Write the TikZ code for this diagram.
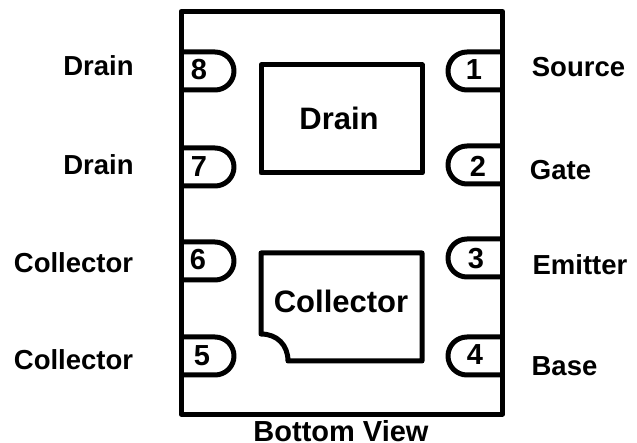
\documentclass[tikz,border=0pt]{standalone}
\usepackage{fontspec}
\setmainfont{Liberation Sans}
\usetikzlibrary{positioning}
\tikzset{
	outline/.style={line width=5pt, line join=round, black},
	padline/.style={line width=5pt, line join=round, black},
	pinnum/.style={font=\fontsize{29}{29}\selectfont\bfseries, inner sep=0pt},
	padname/.style={font=\fontsize{31}{31}\selectfont\bfseries, inner sep=0pt},
	sidename/.style={font=\fontsize{27.5}{27.5}\selectfont\bfseries, inner sep=0pt}
}
\begin{document}
\begin{tikzpicture}[x=1pt,y=-1pt]
		
		\def\rad{19} % pin radius
		
		\useasboundingbox (0,0) rectangle (637,443);
		
		\coordinate (TL) at (181,11.5);
		\coordinate (BR) at (502.5,414);
		
		\draw[outline] (TL) rectangle (BR);
		
		% left pins
		\draw[padline] (181,52) -- (215,52) arc[start angle=-90,end angle=90,radius=\rad] -- (181,90);
		\draw[padline] (181,148) -- (215,148) arc[start angle=-90,end angle=90,radius=\rad] -- (181,186);
		\draw[padline] (181,242) -- (215,242) arc[start angle=-90,end angle=90,radius=\rad] -- (181,280);
		\draw[padline] (181,337) -- (215,337) arc[start angle=-90,end angle=90,radius=\rad] -- (181,375);
		
		% right pins
		\draw[padline] (502.5,52) -- (467,52) arc[start angle=270,end angle=90,radius=\rad] -- (502.5,90);
		\draw[padline] (502.5,146) -- (467,146) arc[start angle=270,end angle=90,radius=\rad] -- (502.5,184);
		\draw[padline] (502.5,239) -- (467,239) arc[start angle=270,end angle=90,radius=\rad] -- (502.5,277);
		\draw[padline] (502.5,337) -- (467,337) arc[start angle=270,end angle=90,radius=\rad] -- (502.5,375);
		
		% pads
		\draw[padline] (261,65) rectangle (422,173);
		\draw[padline] (261,253) -- (422,253) -- (422,361) -- (288,361)
		.. controls (288,345) and (277,334) .. (261,334) -- cycle;
		
		\node[padname] (drainpad) at (339,118) {Drain};
		\node[padname] (collectorpad) at (341,301) {Collector};
		
		\node[pinnum] (p8) at (199,70) {8};
		\node[pinnum] (p7) at (199,167) {7};
		\node[pinnum] (p6) at (198,260) {6};
		\node[pinnum] (p5) at (202,356) {5};
		\node[pinnum] (p1) at (474,70) {1};
		\node[pinnum] (p2) at (478,166) {2};
		\node[pinnum] (p3) at (476,259) {3};
		\node[pinnum] (p4) at (475,355) {4};
		
		\node[sidename] (l8) at (98.5,66) {Drain};
		\node[sidename] (l7) at (98.5,165) {Drain};
		\node[sidename] (l6) at (73.5,263) {Collector};
		\node[sidename] (l5) at (73.5,360) {Collector};
		\node[sidename] (l1) at (578.5,67) {Source};
		\node[sidename] (l2) at (560.5,170) {Gate};
		\node[sidename] (l3) at (580,265) {Emitter};
		\node[sidename] (l4) at (564.5,366) {Base};
		
		\node[font=\fontsize{29}{29}\selectfont\bfseries, inner sep=0pt] (title) at (341,431) {Bottom View};
	\end{tikzpicture}
\end{document}
